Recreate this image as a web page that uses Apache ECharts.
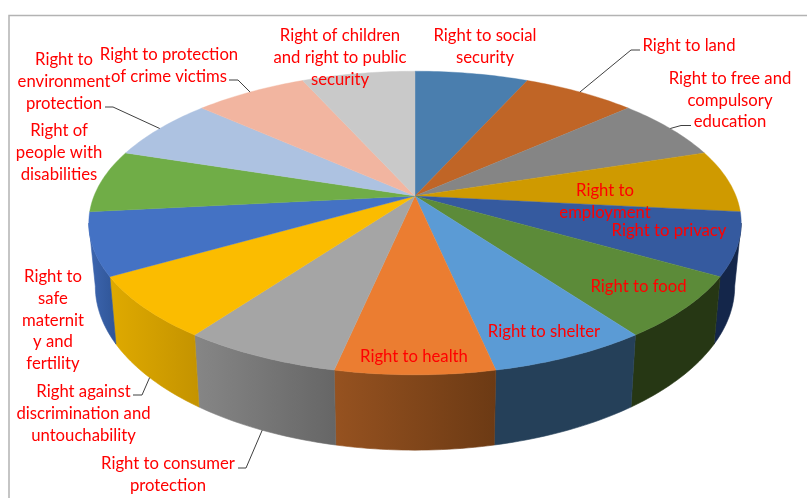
<!DOCTYPE html>
<html><head><meta charset="utf-8">
<style>html,body{margin:0;padding:0;background:#fff}#c{width:807px;height:498px}</style>
<script src="https://cdn.jsdelivr.net/npm/echarts@6/dist/echarts.min.js"></script>
</head><body><div id="c"></div>
<script>
// Data, clockwise from 12 o'clock
const categories = ["Right to social\nsecurity","Right to land","Right to free and\ncompulsory\neducation","Right to\nemployment","Right to privacy","Right to food","Right to shelter","Right to health","Right to consumer\nprotection","Right against\ndiscrimination and\nuntouchability","Right to\nsafe\nmaternit\ny and\nfertility","Right of\npeople with\ndisabilities","Right to\nenvironment\nprotection","Right to protection\nof crime victims","Right of children\nand right to public\nsecurity"];
const values = [1,1,1,1,1,1,1,1,1,1,1,1,1,1,1];
const topColors = ["#4A7EAE","#C06526","#858585","#CF9A00","#355A9F","#5C8B39","#5B9BD5","#EB7D31","#A5A5A5","#FBBC00","#4472C4","#70AD47","#ADC2E1","#F2B5A0","#C9C9C9"];
const wallStops = {4:["#14264A","#14264A"],5:["#263714","#263714"],6:["#254059","#254059"],7:["#965220","#6C3A14"],8:["#868686","#666666"],9:["#DFAA00","#C49300"],10:["#3D66B0","#2F5597"]};
// Label layout: [centre x, centre y]
const labelCentres = [[485,46.7],[689,45.7],[730,100.2],[605,201.7],[669,230.7],[638.5,286.7],[544,331.7],[414,356.7],[168,474.7],[83.5,413.7],[53,320.2],[59,152.7],[64,81.7],[169,65.7],[340,57.7]];
// Leader elbows by slice index: [elbow, end, on lower rim?]
const leaders = {1:[[631,50],[640,50],false],2:[[681,125.5],[691,125.5],false],8:[[246,468],[238,468],true],9:[[142,395],[133,395],true],12:[[113,107],[105,107],false],13:[[238,80],[229,80],false]};

// Perspective projection of the pie disc
const CX=415, CY=196, A=321, B=147, K=0.178, S=0.98, CY2=257, F=1.08;
const SIL=100.25; // angle where the rim is widest: the side wall's outline leaves the disc here
const total = values.reduce((a,b)=>a+b,0);
const startDeg = i => values.slice(0,i).reduce((a,b)=>a+b,0)/total*360;
function unit(d){const r=d*Math.PI/180;const X=Math.sin(r),Y=-Math.cos(r),q=1-K*Y;return [A*X/q,B*Y/q];}
const topPt = d => {const u=unit(d);return [CX+u[0],CY+u[1]];};
const botPt = d => {const u=unit(d);return [CX+S*u[0],CY2+F*u[1]];};
function arc(fn,a,b){const out=[];const n=Math.max(2,Math.ceil(Math.abs(b-a)));for(let j=0;j<=n;j++)out.push(fn(a+(b-a)*j/n));return out;}

const data = values.map((v,i)=>({name:categories[i],value:v}));
const font = 'Lato';
const chart = echarts.init(document.getElementById('c'),null,{renderer:'canvas'});
chart.setOption({
  backgroundColor:'#fff',
  animation:false,
  graphic:[{type:'rect',silent:true,z:0,shape:{x:9,y:15.5,width:820,height:500},style:{fill:'none',stroke:'#B3B3B3',lineWidth:1.5}}],
  series:[
    {type:'custom',coordinateSystem:'none',z:2,data,silent:true,
     renderItem(p,api){
       const i=p.dataIndex, st=wallStops[i];
       if(!st) return {type:'group',children:[]};
       const a=Math.max(startDeg(i),SIL), b=Math.min(startDeg(i)+api.value(0)/total*360,360-SIL);
       const pts=arc(topPt,a,b).concat(arc(botPt,b,a));
       const xs=pts.map(q=>q[0]);
       const grad={type:'linear',x:Math.min(...xs),y:0,x2:Math.max(...xs),y2:0,global:true,
               colorStops:[{offset:0,color:st[0]},{offset:1,color:st[1]}]};
       return {type:'polygon',shape:{points:pts},style:{fill:grad,stroke:grad,lineWidth:0.6}};
     }},
    {type:'custom',coordinateSystem:'none',z:3,data,silent:true,
     renderItem(p,api){
       const i=p.dataIndex, a=startDeg(i), b=a+api.value(0)/total*360;
       const pts=[[CX,CY]].concat(arc(topPt,a,b));
       return {type:'polygon',shape:{points:pts},style:{fill:topColors[i],stroke:topColors[i],lineWidth:0.4}};
     }},
    {type:'custom',coordinateSystem:'none',z:4,data,silent:true,
     renderItem(p,api){
       const i=p.dataIndex, l=leaders[i], children=[];
       if(l){
         const mid=startDeg(i)+api.value(0)/total*180;
         children.push({type:'polyline',shape:{points:[(l[2]?botPt:topPt)(mid),l[0],l[1]]},style:{fill:'none',stroke:'#404040',lineWidth:1}});
       }
       const c=labelCentres[i];
       children.push({type:'text',x:c[0],y:c[1],style:{text:categories[i],fill:'#FF0000',font:'16.7px '+font,align:'center',verticalAlign:'middle',lineHeight:21.7}});
       return {type:'group',children};
     }}
  ]
});
</script></body></html>
